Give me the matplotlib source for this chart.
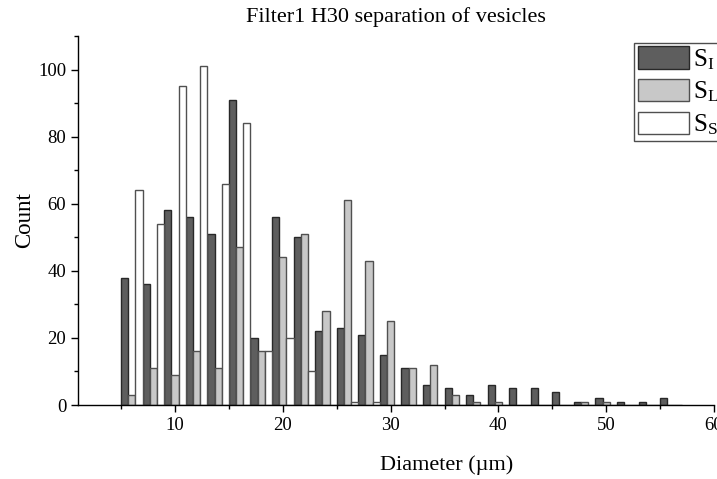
import matplotlib
matplotlib.use("Agg")
import matplotlib.pyplot as plt
import numpy as np
from matplotlib.ticker import MultipleLocator

plt.rcParams['font.family'] = ['Liberation Serif', 'DejaVu Serif']
plt.rcParams['mathtext.fontset'] = 'custom'
plt.rcParams['mathtext.rm'] = 'Liberation Serif'
plt.rcParams['mathtext.it'] = 'Liberation Serif:italic'

bin_centers = [6, 8, 10, 12, 14, 16, 18, 20, 22, 24, 26, 28, 30, 32, 34, 36, 38, 40,
               42, 44, 46, 48, 50, 52, 54, 56]
s_i = [38, 36, 58, 56, 51, 91, 20, 56, 50, 22, 23, 21, 15, 11, 6, 5, 3, 6,
       5, 5, 4, 1, 2, 1, 1, 2]
s_l = [3, 11, 9, 16, 11, 47, 16, 44, 51, 28, 61, 43, 25, 11, 12, 3, 1, 1,
       0, 0, 0, 1, 1, 0, 0, 0]
s_s = [64, 54, 95, 101, 66, 84, 16, 20, 10, 0, 1, 1, 0, 0, 0, 0, 0, 0,
       0, 0, 0, 0, 0, 0, 0, 0]
labels = [r'$\mathrm{S_I}$', r'$\mathrm{S_L}$', r'$\mathrm{S_S}$']

fig = plt.figure(figsize=(7.17, 4.79), dpi=100)
ax = fig.add_axes([78/717, 74/479, 636/717, 369/479])

x = np.array(bin_centers, dtype=float)
w = 2/3
ax.bar(x - w, s_i, width=w, color='#5e5e5e', edgecolor='#282828', linewidth=1.0, label=labels[0])
ax.bar(x, s_l, width=w, color='#c8c8c8', edgecolor='#505050', linewidth=1.0, label=labels[1])
ax.bar(x + w, s_s, width=w, color='white', edgecolor='#505050', linewidth=1.0, label=labels[2])

ax.set_xlim(1, 60)
ax.set_ylim(0, 110)
ax.xaxis.set_major_locator(MultipleLocator(10))
ax.xaxis.set_minor_locator(MultipleLocator(5))
ax.yaxis.set_major_locator(MultipleLocator(20))
ax.yaxis.set_minor_locator(MultipleLocator(10))
ax.tick_params(which='major', direction='out', length=5, width=1, labelsize=13.5)
ax.tick_params(which='minor', direction='out', length=3, width=1)
for s in ['top', 'right']:
    ax.spines[s].set_visible(False)
for s in ['left', 'bottom']:
    ax.spines[s].set_linewidth(1)

ax.set_title('Filter1 H30 separation of vesicles', fontsize=16, pad=10)
ax.set_xlabel('Diameter (\u00b5m)', fontsize=16)
ax.xaxis.set_label_coords((447-78)/636, -0.135)
ax.xaxis.label.set_verticalalignment('top')
ax.set_ylabel('Count', fontsize=16.5, labelpad=2)

leg = ax.legend(loc='upper left', bbox_to_anchor=((634-78)/636, (405-42.5)/369),
                fontsize=18, frameon=True, fancybox=False, edgecolor='#222222',
                handlelength=2.05, handleheight=1.0, handletextpad=0.15,
                borderpad=0.15, labelspacing=0.3, borderaxespad=0)
leg.get_frame().set_linewidth(1)

fig.savefig('out.png', dpi=100)
